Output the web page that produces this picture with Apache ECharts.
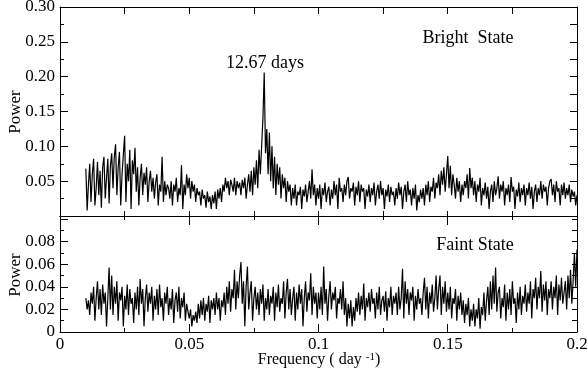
<!DOCTYPE html>
<html><head><meta charset="utf-8">
<script src="https://cdn.jsdelivr.net/npm/echarts@6/dist/echarts.min.js"></script>
<style>html,body{margin:0;padding:0;background:#fff}#c{width:588px;height:376px}</style>
</head><body><div id="c"></div>
<script>
// frequency sampling (day^-1): first sample and step
const freqStart = 0.010;
const freqStep = 0.0005;
const xTickLabels = ['0', '0.05', '0.1', '0.15', '0.2'];
const peakLabel = '12.67 days';

// Bright state power values, 0.010 .. 0.200
const brightPower = [
0.068,0.008,0.045,0.075,0.020,0.060,0.082,0.015,0.040,0.078,0.030,0.065,0.012,0.070,0.085,0.025,0.055,0.082,0.018,0.072,
0.090,0.040,0.085,0.103,0.030,0.070,0.092,0.015,0.060,0.088,0.115,0.020,0.075,0.050,0.095,0.010,0.080,0.060,0.098,0.035,
0.070,0.015,0.055,0.075,0.030,0.062,0.045,0.070,0.020,0.050,0.065,0.035,0.055,0.025,0.048,0.060,0.015,0.045,0.035,0.085,
0.020,0.050,0.030,0.045,0.040,0.025,0.050,0.015,0.045,0.035,0.055,0.020,0.040,0.030,0.073,0.010,0.045,0.030,0.060,0.040,
0.055,0.025,0.050,0.035,0.045,0.020,0.040,0.030,0.035,0.015,0.038,0.025,0.030,0.012,0.035,0.020,0.028,0.010,0.030,0.018,
0.035,0.010,0.038,0.025,0.040,0.020,0.045,0.035,0.055,0.040,0.050,0.030,0.052,0.045,0.035,0.055,0.030,0.050,0.040,0.048,
0.030,0.052,0.040,0.055,0.025,0.045,0.060,0.035,0.065,0.030,0.070,0.045,0.080,0.040,0.095,0.060,0.100,0.140,0.206,0.090,
0.125,0.060,0.120,0.050,0.100,0.040,0.085,0.030,0.075,0.045,0.070,0.025,0.060,0.040,0.055,0.020,0.050,0.035,0.045,0.015,
0.040,0.025,0.045,0.015,0.035,0.030,0.042,0.010,0.038,0.028,0.045,0.020,0.035,0.050,0.025,0.067,0.030,0.045,0.015,0.040,
0.025,0.045,0.010,0.040,0.030,0.048,0.020,0.035,0.042,0.015,0.038,0.025,0.050,0.030,0.045,0.010,0.055,0.035,0.040,0.020,
0.045,0.030,0.050,0.056,0.025,0.040,0.035,0.048,0.015,0.042,0.030,0.050,0.020,0.045,0.035,0.040,0.010,0.038,0.028,0.045,
0.020,0.040,0.030,0.048,0.015,0.035,0.045,0.025,0.050,0.030,0.040,0.010,0.038,0.028,0.045,0.020,0.042,0.030,0.035,0.015,
0.040,0.025,0.048,0.030,0.042,0.010,0.035,0.045,0.020,0.050,0.030,0.038,0.015,0.040,0.025,0.045,0.008,0.030,0.020,0.038,
0.025,0.040,0.015,0.045,0.030,0.050,0.020,0.042,0.035,0.055,0.025,0.048,0.040,0.060,0.030,0.065,0.045,0.070,0.035,0.060,
0.086,0.040,0.072,0.030,0.060,0.045,0.025,0.055,0.035,0.050,0.020,0.045,0.030,0.050,0.040,0.060,0.025,0.069,0.040,0.055,
0.030,0.050,0.020,0.045,0.035,0.055,0.015,0.040,0.030,0.048,0.025,0.042,0.010,0.035,0.045,0.020,0.050,0.030,0.040,0.057,
0.025,0.045,0.035,0.050,0.015,0.040,0.030,0.045,0.020,0.056,0.035,0.042,0.010,0.038,0.028,0.048,0.020,0.040,0.030,0.045,
0.015,0.040,0.030,0.048,0.025,0.042,0.010,0.035,0.045,0.020,0.040,0.030,0.050,0.025,0.045,0.035,0.042,0.015,0.040,0.050,
0.053,0.030,0.045,0.020,0.050,0.035,0.040,0.015,0.045,0.030,0.048,0.025,0.040,0.030,0.045,0.020,0.038,0.028,0.035,0.015,0.030
];

// Faint state power values, 0.010 .. 0.200
const faintPower = [
0.030,0.020,0.028,0.015,0.035,0.025,0.040,0.010,0.030,0.045,0.020,0.038,0.015,0.042,0.025,0.035,0.005,0.030,0.057,0.020,
0.050,0.015,0.040,0.025,0.045,0.010,0.035,0.028,0.040,0.005,0.032,0.020,0.042,0.015,0.038,0.025,0.030,0.008,0.035,0.020,
0.040,0.015,0.047,0.025,0.038,0.005,0.030,0.042,0.018,0.035,0.025,0.040,0.010,0.032,0.020,0.038,0.015,0.042,0.022,0.030,
0.010,0.035,0.025,0.040,0.015,0.030,0.020,0.038,0.008,0.028,0.035,0.018,0.040,0.012,0.030,0.022,0.035,0.010,0.025,0.018,
0.012,0.020,0.005,0.015,0.010,0.018,0.008,0.025,0.012,0.028,0.015,0.030,0.010,0.025,0.018,0.032,0.008,0.028,0.020,0.030,
0.015,0.035,0.020,0.030,0.010,0.028,0.022,0.035,0.015,0.040,0.025,0.045,0.018,0.038,0.030,0.055,0.020,0.045,0.030,0.050,
0.062,0.025,0.045,0.005,0.040,0.058,0.020,0.035,0.045,0.010,0.030,0.040,0.020,0.035,0.015,0.038,0.025,0.042,0.010,0.030,
0.020,0.038,0.015,0.032,0.025,0.040,0.010,0.035,0.022,0.042,0.018,0.030,0.025,0.045,0.012,0.035,0.047,0.020,0.038,0.015,
0.030,0.040,0.010,0.035,0.020,0.042,0.025,0.038,0.005,0.030,0.045,0.018,0.035,0.028,0.052,0.015,0.040,0.025,0.035,0.012,
0.035,0.020,0.040,0.015,0.058,0.025,0.038,0.010,0.032,0.045,0.020,0.035,0.028,0.040,0.012,0.030,0.025,0.038,0.020,0.045,
0.015,0.030,0.005,0.025,0.012,0.028,0.005,0.022,0.010,0.030,0.018,0.035,0.015,0.032,0.020,0.043,0.010,0.030,0.022,0.035,
0.018,0.038,0.025,0.030,0.012,0.035,0.020,0.040,0.015,0.028,0.032,0.018,0.036,0.010,0.030,0.022,0.040,0.015,0.032,0.025,
0.035,0.015,0.040,0.020,0.030,0.056,0.012,0.045,0.025,0.038,0.015,0.035,0.028,0.040,0.010,0.032,0.020,0.038,0.025,0.030,
0.015,0.035,0.048,0.020,0.040,0.012,0.035,0.025,0.042,0.018,0.030,0.050,0.020,0.038,0.050,0.015,0.040,0.025,0.045,0.018,
0.035,0.020,0.040,0.012,0.030,0.025,0.038,0.010,0.032,0.020,0.035,0.015,0.028,0.008,0.025,0.015,0.030,0.005,0.020,0.010,
0.025,0.005,0.020,0.012,0.030,0.003,0.022,0.015,0.035,0.010,0.028,0.040,0.015,0.045,0.020,0.050,0.025,0.057,0.018,0.035,
0.040,0.012,0.030,0.022,0.042,0.010,0.035,0.020,0.038,0.015,0.045,0.025,0.030,0.008,0.035,0.020,0.040,0.015,0.032,0.025,
0.042,0.018,0.035,0.025,0.045,0.012,0.038,0.030,0.048,0.020,0.040,0.030,0.054,0.018,0.042,0.028,0.045,0.015,0.038,0.030,
0.045,0.020,0.040,0.030,0.050,0.015,0.042,0.028,0.048,0.025,0.035,0.045,0.020,0.050,0.030,0.055,0.025,0.045,0.070,0.040,0.073
];

const FONT = '"Liberation Serif","DejaVu Serif",serif';
function pairs(vals){ return vals.map((v,i)=>[+(freqStart + i*freqStep).toFixed(4), v]); }

const chart = echarts.init(document.getElementById('c'), null, {renderer:'canvas'});
const axLine = {show:true, onZero:false, lineStyle:{color:'#000', width:1}};
const noLabel = {show:false};
const xLabelMap = {0:xTickLabels[0],0.05:xTickLabels[1],0.1:xTickLabels[2],0.15:xTickLabels[3],0.2:xTickLabels[4]};
const tk = (len)=>({inside:true, length:len, lineStyle:{color:'#000', width:1}});
const mtk = (len)=>({show:true, splitNumber:2, length:len, lineStyle:{color:'#000', width:1}});

chart.setOption({
  animation:false,
  backgroundColor:'#fff',
  grid:[
    {left:60, top:7, width:517, height:209, containLabel:false, outerBoundsMode:'none'},
    {left:60, top:216, width:517, height:116, containLabel:false, outerBoundsMode:'none'}
  ],
  xAxis:[
    {gridIndex:0, type:'value', position:'bottom', min:0, max:0.2, interval:0.025,
     axisLine:axLine, axisTick:tk(5), axisLabel:noLabel, splitLine:{show:false}},
    {gridIndex:0, type:'value', position:'top', min:0, max:0.2, interval:0.025,
     axisLine:axLine, axisTick:tk(7), axisLabel:noLabel, splitLine:{show:false}},
    {gridIndex:1, type:'value', position:'bottom', min:0, max:0.2, interval:0.05,
     axisLine:axLine, axisTick:tk(8), minorTick:mtk(4),
     axisLabel:{show:true, margin:4, color:'#000', fontFamily:FONT, fontSize:17,
       formatter:v=>{const k=Math.round(v*100)/100; return xLabelMap[k]!==undefined?xLabelMap[k]:'';}},
     splitLine:{show:false}, minorSplitLine:{show:false}},
    {gridIndex:1, type:'value', position:'top', min:0, max:0.2, interval:0.05,
     axisLine:axLine, axisTick:tk(9), minorTick:mtk(4),
     axisLabel:noLabel, splitLine:{show:false}}
  ],
  yAxis:[
    {gridIndex:0, type:'value', position:'left', min:0, max:0.3, interval:0.05,
     axisLine:axLine, axisTick:tk(8), minorTick:mtk(4),
     axisLabel:{show:true, margin:5, color:'#000', fontFamily:FONT, fontSize:17,
       formatter:v=> v<0.01 ? '' : v.toFixed(2)},
     splitLine:{show:false}, minorSplitLine:{show:false}},
    {gridIndex:0, type:'value', position:'right', min:0, max:0.3, interval:0.025,
     axisLine:axLine, axisTick:tk(7), axisLabel:noLabel, splitLine:{show:false}},
    {gridIndex:1, type:'value', position:'left', min:0, max:0.1027, interval:0.02,
     axisLine:axLine, axisTick:tk(8), minorTick:mtk(4),
     axisLabel:{show:true, margin:5, color:'#000', fontFamily:FONT, fontSize:17,
       formatter:v=> v<0.001 ? '0' : (v>0.09 ? '' : v.toFixed(2))},
     splitLine:{show:false}, minorSplitLine:{show:false}},
    {gridIndex:1, type:'value', position:'right', min:0, max:0.1027, interval:0.01,
     axisLine:axLine, axisTick:tk(5), axisLabel:noLabel, splitLine:{show:false}}
  ],
  series:[
    {type:'line', xAxisIndex:0, yAxisIndex:0, data:pairs(brightPower), showSymbol:false, symbol:'none',
     lineStyle:{color:'#000', width:1.2}, silent:true},
    {type:'line', xAxisIndex:2, yAxisIndex:2, data:pairs(faintPower), showSymbol:false, symbol:'none',
     lineStyle:{color:'#000', width:1.2}, silent:true}
  ],
  graphic:[
    {type:'text', x:16, y:112, rotation:Math.PI/2, style:{text:'Power', fontFamily:FONT, fontSize:17, fill:'#000', align:'center', verticalAlign:'middle'}},
    {type:'text', x:16, y:275, rotation:Math.PI/2, style:{text:'Power', fontFamily:FONT, fontSize:17, fill:'#000', align:'center', verticalAlign:'middle'}},
    {type:'text', x:265, y:63, style:{text:peakLabel, fontFamily:FONT, fontSize:18, fill:'#000', align:'center', verticalAlign:'middle'}},
    {type:'text', x:468, y:38, style:{text:'Bright  State', fontFamily:FONT, fontSize:18, fill:'#000', align:'center', verticalAlign:'middle'}},
    {type:'text', x:475, y:245, style:{text:'Faint State', fontFamily:FONT, fontSize:18, fill:'#000', align:'center', verticalAlign:'middle'}},
    {type:'text', x:319, y:360, style:{
      text:'{n|Frequency ( day }{s|-1}{n|)}', align:'center', verticalAlign:'middle',
      rich:{n:{fontFamily:FONT, fontSize:16, fill:'#000', color:'#000'},
            s:{fontFamily:FONT, fontSize:11, fill:'#000', color:'#000', verticalAlign:'top', padding:[0,0,6,0]}}}}
  ]
});
</script>
</body></html>
